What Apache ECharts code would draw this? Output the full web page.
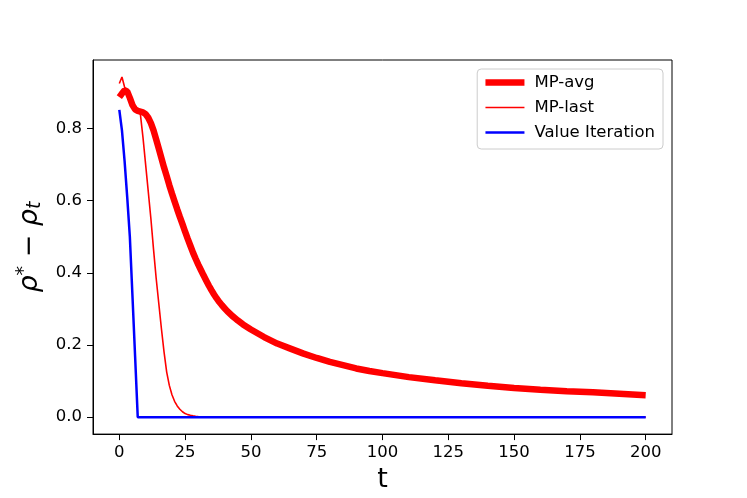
<!DOCTYPE html>
<html>
<head>
<meta charset="utf-8">
<script src="https://cdn.jsdelivr.net/npm/echarts@6/dist/echarts.min.js"></script>
<style>
  html, body { margin: 0; padding: 0; background: #fff; }
  #chart { width: 747px; height: 498px; }
</style>
</head>
<body>
<div id="chart"></div>
<script>
// values
var tAvg = [0, 1, 2, 3, 4, 5, 6, 7, 8, 9, 10, 11, 12, 13, 14, 15, 16, 17, 18, 19,
            20, 21, 22, 23, 24, 25, 26, 27, 28, 29, 30, 31, 32, 33, 34, 35, 36, 37, 38, 39,
            40, 41, 42, 43, 44, 45, 47, 50, 55, 60, 65, 70, 75, 80, 85, 90, 95, 100,
            110, 120, 130, 140, 150, 160, 170, 180, 190, 200];
var mpAvg = [0.887, 0.897, 0.906, 0.903, 0.885, 0.865, 0.853, 0.849, 0.847, 0.845,
             0.840, 0.830, 0.815, 0.795, 0.770, 0.744, 0.718, 0.692, 0.668, 0.643,
             0.620, 0.598, 0.576, 0.555, 0.535, 0.514, 0.494, 0.475, 0.456, 0.439,
             0.423, 0.408, 0.393, 0.379, 0.365, 0.352, 0.340, 0.329, 0.319, 0.310,
             0.302, 0.294, 0.287, 0.280, 0.274, 0.268, 0.257, 0.243, 0.222, 0.204,
             0.190, 0.176, 0.164, 0.153, 0.144, 0.135, 0.128, 0.122,
             0.111, 0.102, 0.094, 0.087, 0.081, 0.076, 0.072, 0.069, 0.065, 0.061];

var tLast = [0, 1, 2, 3, 4, 5, 6, 7, 8, 9, 10, 11, 12, 13, 14, 15, 16, 17, 18, 19,
             20, 21, 22, 23, 24, 25, 26, 27, 28, 29, 30, 32, 35, 40, 200];
var mpLast = [0.925, 0.943, 0.915, 0.900, 0.882, 0.865, 0.855, 0.850, 0.840, 0.775,
              0.700, 0.625, 0.550, 0.465, 0.385, 0.315, 0.245, 0.180, 0.125, 0.088,
              0.062, 0.044, 0.031, 0.022, 0.015, 0.010, 0.007, 0.005, 0.0035, 0.0025,
              0.0017, 0.0008, 0.0003, 0, 0];

var tVI = [0, 1, 2, 3, 4, 5, 6, 7, 200];
var vi = [0.852, 0.795, 0.71, 0.61, 0.50, 0.335, 0.168, 0, 0];

var xTicks = [0, 25, 50, 75, 100, 125, 150, 175, 200];
var yTicks = [0, 0.2, 0.4, 0.6, 0.8];

function pairs(xs, ys) {
    var out = [];
    for (var i = 0; i < xs.length; i++) out.push([xs[i], ys[i]]);
    return out;
}

var font = 'DejaVu Sans';
var myChart = echarts.init(document.getElementById('chart'));
var option = {
    animation: false,
    backgroundColor: '#fff',
    grid: {
        left: 93, right: 75, top: 60, bottom: 62,
        show: true, borderColor: '#000', borderWidth: 1, backgroundColor: 'transparent'
    },
    legend: {
        orient: 'vertical',
        right: 84, top: 69,
        itemWidth: 39, itemHeight: 14, itemGap: 8,
        padding: [5, 8, 8, 5],
        borderColor: '#cccccc', borderWidth: 1, borderRadius: 4,
        backgroundColor: 'rgba(255,255,255,0.8)',
        itemStyle: { opacity: 0 },
        textStyle: { fontFamily: font, fontSize: 16.5, color: '#000', lineHeight: 17, padding: [0, 0, 0, 5] },
        data: [
            { name: 'MP-avg', lineStyle: { width: 6.5, color: '#ff0000' } },
            { name: 'MP-last', lineStyle: { width: 1.6, color: '#ff0000' } },
            { name: 'Value Iteration', lineStyle: { width: 2.5, color: '#0000ff' } }
        ]
    },
    xAxis: {
        type: 'value', min: -10, max: 210,
        name: 't', nameLocation: 'middle', nameGap: 28,
        nameTextStyle: { fontFamily: font, fontSize: 27, color: '#000' },
        axisLine: { show: true, onZero: false, lineStyle: { color: '#000', width: 1 } },
        axisTick: { show: true, inside: false, length: 6, customValues: xTicks, lineStyle: { color: '#000' } },
        axisLabel: { margin: 10, customValues: xTicks, fontFamily: font, fontSize: 16.5, color: '#000' },
        splitLine: { show: false }
    },
    yAxis: {
        type: 'value', min: -0.047, max: 0.99,
        name: '{r|ρ}{s|*}{m| − }{r|ρ}{b|t}', nameLocation: 'middle', nameGap: 44, nameRotate: 90,
        nameTextStyle: {
            fontFamily: font, color: '#000',
            rich: {
                r: { fontFamily: font, fontSize: 27, fontStyle: 'italic', color: '#000', lineHeight: 30 },
                s: { fontFamily: font, fontSize: 19, color: '#000', verticalAlign: 'top', lineHeight: 30 },
                m: { fontFamily: font, fontSize: 27, color: '#000', lineHeight: 30 },
                b: { fontFamily: font, fontSize: 19, fontStyle: 'italic', color: '#000', verticalAlign: 'bottom', lineHeight: 30 }
            }
        },
        axisLine: { show: true, onZero: false, lineStyle: { color: '#000', width: 1 } },
        axisTick: { show: true, inside: false, length: 6, customValues: yTicks, lineStyle: { color: '#000' } },
        axisLabel: {
            margin: 11, customValues: yTicks, fontFamily: font, fontSize: 16.5, color: '#000',
            formatter: function (v) { return v.toFixed(1); }
        },
        splitLine: { show: false }
    },
    series: [
        {
            name: 'MP-avg', type: 'line', symbol: 'none',
            lineStyle: { color: '#ff0000', width: 6.5 }, itemStyle: { color: '#ff0000' },
            data: pairs(tAvg, mpAvg), z: 2
        },
        {
            name: 'MP-last', type: 'line', symbol: 'none',
            lineStyle: { color: '#ff0000', width: 1.6 }, itemStyle: { color: '#ff0000' },
            data: pairs(tLast, mpLast), z: 3
        },
        {
            name: 'Value Iteration', type: 'line', symbol: 'none',
            lineStyle: { color: '#0000ff', width: 2.5 }, itemStyle: { color: '#0000ff' },
            data: pairs(tVI, vi), z: 4
        }
    ]
};
myChart.setOption(option);
</script>
</body>
</html>
